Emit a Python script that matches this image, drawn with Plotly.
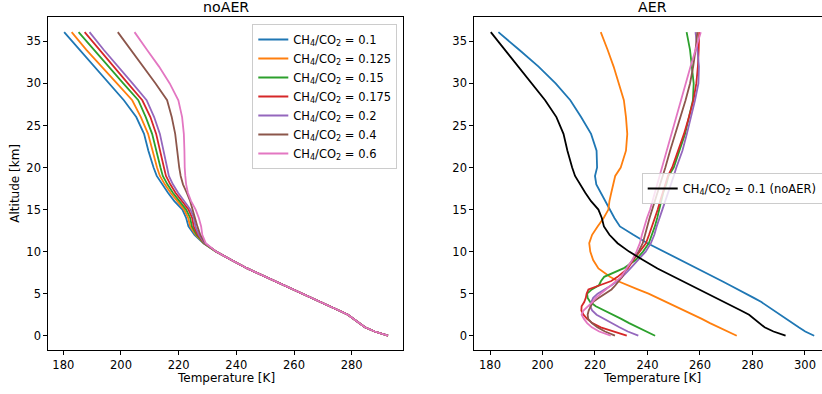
import plotly.graph_objects as go

# Altitude levels [km]
altitude_km = [0, 0.5, 1, 1.5, 2, 2.5, 3, 3.5, 4, 4.5, 5, 5.5, 6, 6.5, 7, 8, 9, 10, 11,
               12, 13, 14, 15, 16, 17, 18, 19, 20, 22, 24, 26, 28, 30, 32, 34, 36.1]

ratio_labels = ["0.1", "0.125", "0.15", "0.175", "0.2", "0.4", "0.6"]
colors = ["#1f77b4", "#ff7f0e", "#2ca02c", "#d62728", "#9467bd", "#8c564b", "#e377c2"]

# noAER temperature profiles [K]
noaer_0100 = [292.6, 288.0, 284.6, 282.6, 281.0, 278.7, 275.6, 272.4, 269.1, 265.9, 262.6, 259.4, 256.2, 253.0, 249.8, 243.8, 238.3, 233.0, 228.6,
              225.5, 223.4, 222.6, 221.3, 218.5, 216.3, 214.3, 212.4, 211.3, 209.5, 208.0, 205.3, 201.0, 195.9, 190.8, 185.6, 180.3]
noaer_0125 = [292.6, 288.0, 284.6, 282.6, 281.0, 278.7, 275.6, 272.4, 269.1, 265.9, 262.6, 259.4, 256.2, 253.0, 249.8, 243.8, 238.3, 233.0, 228.7,
              225.9, 224.0, 223.3, 221.9, 219.4, 217.2, 215.2, 213.5, 212.5, 210.9, 209.4, 206.9, 203.9, 198.6, 193.3, 188.0, 182.9]
noaer_0150 = [292.6, 288.0, 284.6, 282.6, 281.0, 278.7, 275.6, 272.4, 269.1, 265.9, 262.6, 259.4, 256.2, 253.0, 249.8, 243.8, 238.3, 233.0, 228.8,
              226.2, 224.6, 224.0, 222.6, 220.2, 218.0, 216.1, 214.5, 213.7, 212.3, 210.8, 208.6, 206.0, 200.8, 195.7, 190.4, 185.3]
noaer_0175 = [292.6, 288.0, 284.6, 282.6, 281.0, 278.7, 275.6, 272.4, 269.1, 265.9, 262.6, 259.4, 256.2, 253.0, 249.8, 243.8, 238.3, 233.0, 228.9,
              226.6, 225.2, 224.7, 223.4, 221.0, 218.9, 217.1, 215.6, 214.9, 213.6, 212.2, 210.2, 207.4, 202.4, 197.5, 192.4, 187.4]
noaer_0200 = [292.6, 288.0, 284.6, 282.6, 281.0, 278.7, 275.6, 272.4, 269.1, 265.9, 262.6, 259.4, 256.2, 253.0, 249.8, 243.8, 238.3, 233.0, 229.0,
              227.0, 225.8, 225.3, 224.1, 221.8, 219.8, 218.0, 216.6, 216.0, 214.7, 213.5, 211.5, 208.9, 204.0, 199.0, 194.0, 189.1]
noaer_0400 = [292.6, 288.0, 284.6, 282.6, 281.0, 278.7, 275.6, 272.4, 269.1, 265.9, 262.6, 259.4, 256.2, 253.0, 249.8, 243.8, 238.3, 233.0, 229.2,
              227.5, 226.5, 225.7, 224.8, 224.0, 222.8, 221.5, 220.7, 220.2, 219.5, 218.8, 217.6, 216.0, 212.0, 207.8, 203.4, 198.9]
noaer_0600 = [292.6, 288.0, 284.6, 282.6, 281.0, 278.7, 275.6, 272.4, 269.1, 265.9, 262.6, 259.4, 256.2, 253.0, 249.8, 243.8, 238.3, 233.0, 229.4,
              228.2, 227.8, 227.0, 225.9, 224.3, 223.2, 222.6, 222.3, 222.1, 222.0, 221.8, 221.2, 219.9, 216.9, 213.2, 209.0, 204.7]

# AER temperature profiles [K]
aer_0100 = [303.5, 300.1, 297.6, 295.3, 293.0, 290.7, 288.4, 286.1, 283.4, 280.5, 277.6, 274.6, 271.4, 268.3, 265.1, 258.8, 252.4, 246.1, 240.0,
            234.6, 229.5, 227.4, 225.7, 223.7, 222.0, 220.5, 220.0, 220.8, 220.6, 218.5, 214.7, 210.6, 205.0, 198.5, 191.1, 183.2]
aer_0125 = [274.0, 270.5, 267.0, 263.8, 260.7, 257.3, 254.1, 250.9, 247.6, 244.1, 240.4, 236.3, 232.1, 228.6, 225.7, 221.3, 219.3, 218.2, 217.8,
            218.9, 221.0, 223.3, 225.1, 225.5, 226.2, 227.0, 227.7, 229.8, 231.8, 232.3, 231.8, 231.0, 229.0, 227.1, 224.8, 222.2]
aer_0150 = [242.9, 239.5, 236.2, 233.0, 230.0, 226.8, 223.5, 220.3, 218.2, 217.2, 217.0, 218.8, 221.5, 222.3, 223.5, 230.8, 235.5, 238.3, 240.5,
            241.8, 242.8, 243.7, 244.5, 245.2, 246.0, 247.2, 248.0, 250.0, 252.2, 254.3, 255.8, 257.3, 257.6, 257.0, 256.2, 254.9]
aer_0175 = [232.1, 226.8, 222.2, 219.0, 217.0, 215.6, 214.8, 214.9, 215.9, 216.5, 216.8, 217.5, 222.3, 226.2, 228.6, 232.5, 234.6, 237.0, 239.4,
            240.6, 241.7, 242.9, 243.9, 244.8, 245.8, 246.9, 247.8, 249.4, 251.8, 253.9, 255.8, 257.5, 258.6, 259.2, 259.5, 259.7]
aer_0200 = [236.5, 232.5, 229.3, 226.3, 223.2, 220.6, 218.9, 218.2, 218.6, 219.3, 221.0, 223.8, 226.3, 228.6, 230.4, 233.5, 236.5, 239.3, 241.3,
            242.6, 243.5, 244.6, 245.8, 246.8, 247.9, 248.9, 250.0, 251.0, 253.3, 255.0, 256.6, 258.1, 259.4, 259.6, 259.0, 258.3]
aer_0400 = [227.6, 223.8, 220.9, 218.8, 217.4, 217.2, 217.6, 218.3, 219.2, 221.5, 223.9, 226.3, 227.8, 229.0, 230.4, 232.0, 234.3, 236.6, 238.2,
            239.0, 239.9, 240.8, 241.8, 242.8, 243.8, 245.0, 246.0, 246.8, 248.6, 250.5, 252.7, 254.5, 256.2, 257.4, 258.3, 259.0]
aer_0600 = [226.0, 221.6, 218.8, 217.0, 215.8, 214.9, 215.6, 217.5, 219.0, 220.3, 222.2, 224.4, 226.3, 228.2, 230.0, 232.0, 234.2, 235.8, 237.1,
            237.9, 238.8, 239.8, 241.0, 241.9, 242.9, 243.9, 244.8, 245.6, 247.3, 249.0, 250.8, 252.6, 254.6, 256.4, 258.3, 260.3]

noaer_profiles = [noaer_0100, noaer_0125, noaer_0150, noaer_0175, noaer_0200, noaer_0400, noaer_0600]
aer_profiles = [aer_0100, aer_0125, aer_0150, aer_0175, aer_0200, aer_0400, aer_0600]

LW = 1.8
FS = 11.5
FS_LABEL = 12
FS_TITLE = 14.2
fig = go.Figure()
for lab, col, T in zip(ratio_labels, colors, noaer_profiles):
    fig.add_trace(go.Scatter(x=T, y=altitude_km, mode="lines",
                             line=dict(color=col, width=LW),
                             name="CH<sub>4</sub>/CO<sub>2</sub> = " + lab,
                             xaxis="x", yaxis="y", legend="legend"))
for lab, col, T in zip(ratio_labels, colors, aer_profiles):
    fig.add_trace(go.Scatter(x=T, y=altitude_km, mode="lines",
                             line=dict(color=col, width=LW),
                             showlegend=False, xaxis="x2", yaxis="y2"))
fig.add_trace(go.Scatter(x=noaer_0100, y=altitude_km, mode="lines",
                         line=dict(color="black", width=LW),
                         name="CH<sub>4</sub>/CO<sub>2</sub> = 0.1 (noAER)",
                         xaxis="x2", yaxis="y2", legend="legend2"))

axis_common = dict(showline=True, linecolor="black", linewidth=1, ticks="outside",
                   ticklen=4, tickwidth=1, tickcolor="black", showgrid=False,
                   zeroline=False, tickfont=dict(size=FS, color="black"))

W, H = 822, 394
T_M, B_M = 17, 44
PH = H - T_M - B_M

def px(xp):
    return xp / W

def py(yp):
    return (H - B_M - yp) / PH

fig.update_layout(
    width=W, height=H,
    margin=dict(l=0, r=0, t=T_M, b=B_M, autoexpand=False),
    paper_bgcolor="white", plot_bgcolor="white",
    font=dict(family="DejaVu Sans", size=FS, color="black"),
    xaxis=dict(domain=[px(48.3), px(403.3)], range=[174.8, 297.9], anchor="y",
               tickmode="linear", tick0=180, dtick=20, mirror=True, **axis_common),
    yaxis=dict(domain=[0, 1], range=[-1.70, 37.9], anchor="x",
               tickmode="linear", tick0=0, dtick=5, mirror=True, **axis_common),
    xaxis2=dict(domain=[px(474.3), 1.0], range=[174.02, 306.48], anchor="y2",
                tickmode="linear", tick0=180, dtick=20, mirror=True, **axis_common),
    yaxis2=dict(domain=[0, 1], range=[-1.70, 37.9], anchor="x2",
                tickmode="linear", tick0=0, dtick=5, mirror=False, **axis_common),
    legend=dict(x=px(397.3), xanchor="right", y=py(24), yanchor="top",
                bgcolor="rgba(255,255,255,0.8)", bordercolor="#cccccc", borderwidth=1,
                font=dict(size=FS, color="black")),
    legend2=dict(x=px(641.7), xanchor="left", y=py(173), yanchor="top",
                 bgcolor="rgba(255,255,255,0.8)", bordercolor="#cccccc", borderwidth=1,
                 font=dict(size=FS, color="black")),
    showlegend=True,
)

annots = [
    dict(text="noAER", x=px(225.8), y=py(6.7), size=FS_TITLE),
    dict(text="AER", x=px(652.7), y=py(6.7), size=FS_TITLE),
    dict(text="Temperature [K]", x=px(225.8), y=py(377.7), size=FS_LABEL),
    dict(text="Temperature [K]", x=px(652.0), y=py(377.7), size=FS_LABEL),
]
for a in annots:
    fig.add_annotation(text=a["text"], x=a["x"], y=a["y"], xref="paper", yref="paper",
                       xanchor="center", yanchor="middle", showarrow=False,
                       font=dict(size=a["size"], color="black"))
fig.add_annotation(text="Altitude [km]", x=px(15), y=py(183.7), xref="paper", yref="paper",
                   xanchor="center", yanchor="middle", showarrow=False, textangle=-90,
                   font=dict(size=FS_LABEL, color="black"))

fig.write_html("out.html",
               config={"displayModeBar": False},
               post_script="document.body.style.margin='0';document.body.style.overflow='hidden';")
